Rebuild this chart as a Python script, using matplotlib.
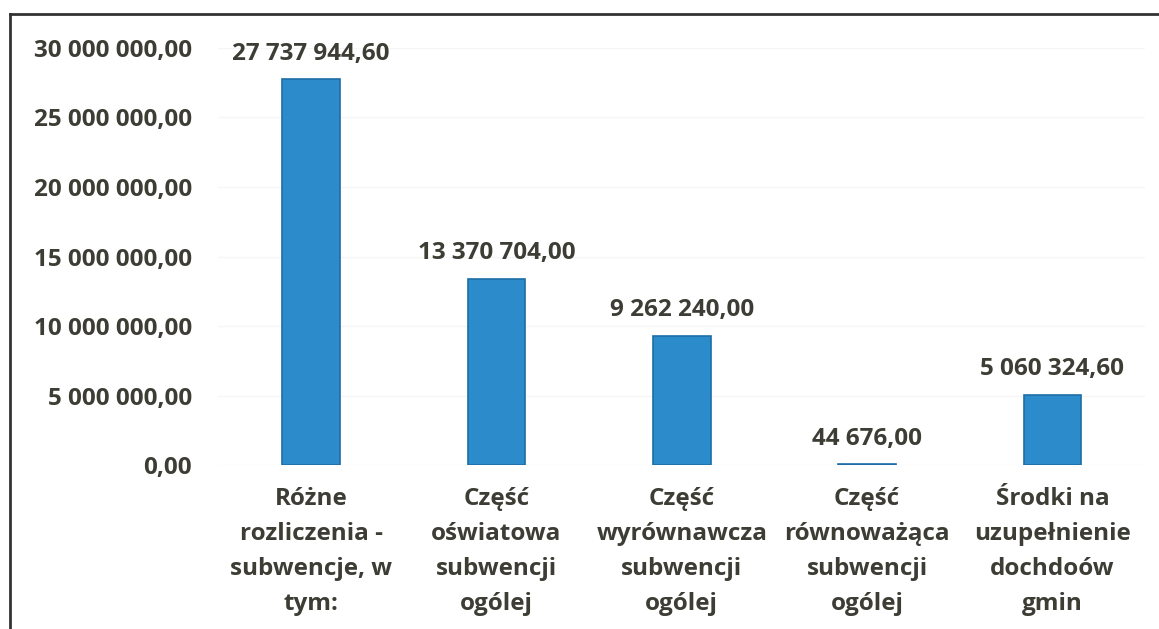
import matplotlib.pyplot as plt
from matplotlib.lines import Line2D
from matplotlib.ticker import FuncFormatter

CATEGORIES = ['Różne\nrozliczenia -\nsubwencje, w\ntym:',
              'Część\noświatowa\nsubwencji\nogólej',
              'Część\nwyrównawcza\nsubwencji\nogólej',
              'Część\nrównoważąca\nsubwencji\nogólej',
              'Środki na\nuzupełnienie\ndochdoów\ngmin']
VALUES = [27737944.60, 13370704.00, 9262240.00, 44676.00, 5060324.60]
Y_TICKS = [0, 5000000, 10000000, 15000000, 20000000, 25000000, 30000000]

TEXT = '#3d3d35'
BAR = '#2b8bcb'
FONT = ['Open Sans', 'DejaVu Sans']
SIZE = 17.5


def pl(v):
    s = f'{v:,.2f}'
    return s.replace(',', ' ').replace('.', ',')


fig = plt.figure(figsize=(11.59, 6.29), dpi=100)
ax = fig.add_axes([0.1885, 0.2607, 0.7995, 0.663])

x = list(range(len(VALUES)))
ax.bar(x, VALUES, width=0.31, color=BAR, edgecolor='#1d6ea6', linewidth=1.2, zorder=3)

for xi, v in zip(x, VALUES):
    ax.annotate(pl(v), (xi, v), xytext=(0, 10), textcoords='offset points',
                ha='center', va='bottom', fontsize=SIZE, fontweight='bold',
                color=TEXT, family=FONT)

ax.set_xlim(-0.5, len(VALUES) - 0.5)
ax.set_ylim(0, 30000000)
ax.set_yticks(Y_TICKS)
ax.yaxis.set_major_formatter(FuncFormatter(lambda v, p: pl(v)))
ax.set_xticks(x)
ax.set_xticklabels(CATEGORIES, linespacing=1.6)
ax.tick_params(axis='both', length=0, labelsize=SIZE, colors=TEXT)
ax.tick_params(axis='y', pad=19)
ax.tick_params(axis='x', pad=16)
for lab in ax.get_xticklabels() + ax.get_yticklabels():
    lab.set_fontweight('bold')
    lab.set_family(FONT)
    lab.set_color(TEXT)

ax.grid(axis='y', color='#f6f6f6', lw=1, zorder=0)
for s in ax.spines.values():
    s.set_visible(False)

# frame of the scanned chart area
fig.add_artist(Line2D([0.0086, 1.0], [0.978, 0.978], color='#333333', lw=2))
fig.add_artist(Line2D([0.0086, 0.0086], [0.0, 0.978], color='#333333', lw=2))

fig.savefig('out.png', dpi=100)
